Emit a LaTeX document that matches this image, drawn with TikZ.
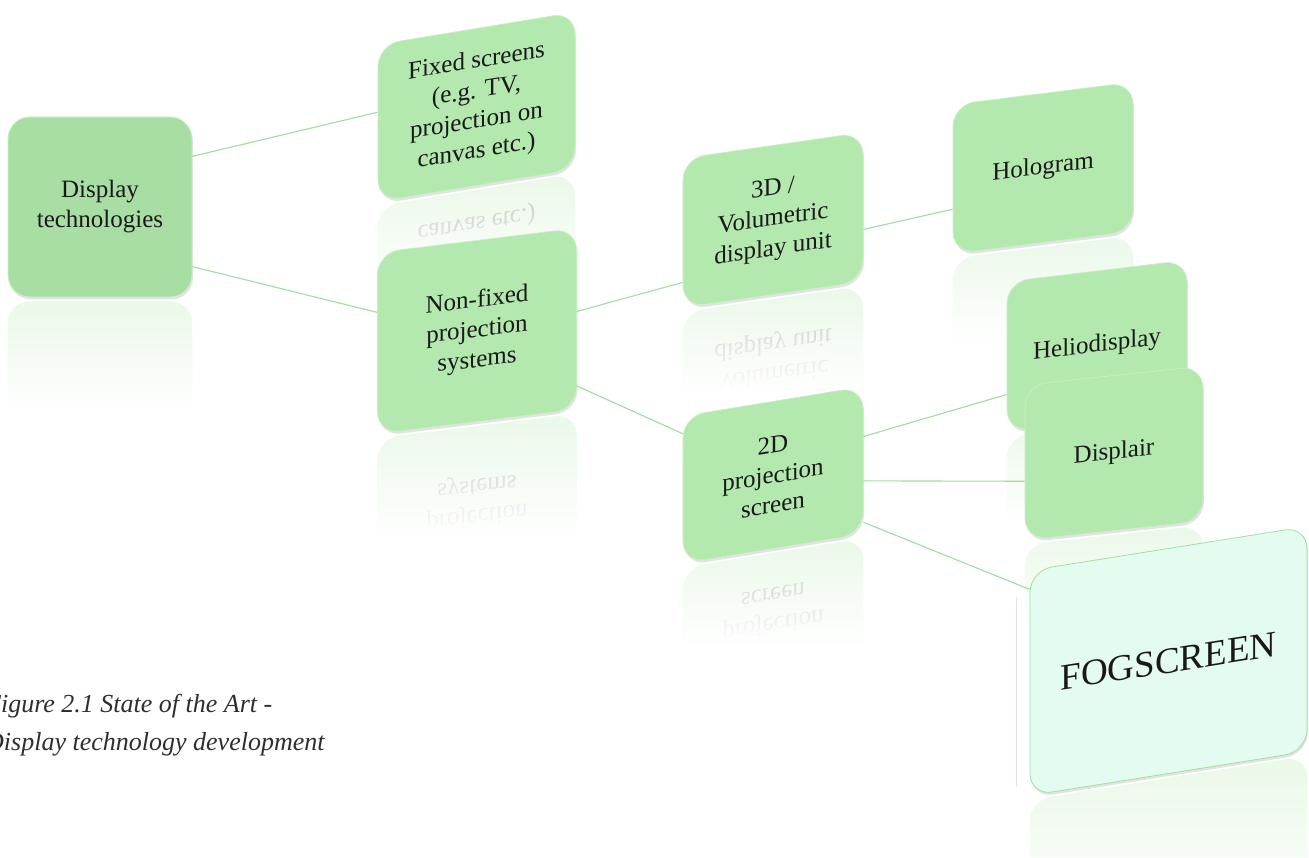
\documentclass[tikz,border=0pt]{standalone}
\usepackage{fontspec}
\setmainfont{Liberation Serif}
\usetikzlibrary{calc,fadings,shadows}
\pgfdeclarelayer{bg}
\pgfdeclarelayer{mid}
\pgfsetlayers{bg,mid,main}
\definecolor{boxg}{HTML}{B3E8AE}
\definecolor{boxd}{HTML}{A8DEA4}
\definecolor{fogf}{HTML}{E4FCF0}
\definecolor{fogb}{HTML}{A0E0A0}
\definecolor{conng}{HTML}{A0DCA0}
\definecolor{edgeg}{HTML}{C8EFC4}
\definecolor{faintline}{HTML}{DDE2EC}
\pgfdeclareverticalshading{reflshade}{100bp}{color(0bp)=(white); color(45bp)=(white); color(98bp)=(black); color(100bp)=(black)}
\pgfdeclarefading{reflfade}{\pgfuseshading{reflshade}}
\tikzset{
  card/.style={rectangle, rounded corners=22pt, fill=boxg, draw=edgeg, line width=0.8pt,
    align=center, inner sep=4pt, font=\fontsize{25}{30}\selectfont, text=black!90,
    drop shadow={opacity=0.22, shadow xshift=1pt, shadow yshift=-2.5pt}},
  rootcard/.style={card, fill=boxd},
  fogcard/.style={card, fill=fogf, draw=fogb, font=\fontsize{37}{42}\selectfont},
  conn/.style={draw=conng, line width=1.1pt},
  refltext/.style={align=center, inner sep=4pt, text=black!45, font=\fontsize{25}{30}\selectfont},
  captext/.style={anchor=base west, inner sep=0pt, text=black!82, font=\fontsize{26}{30}\selectfont\itshape},
}
% #1 style, #2 name, #3 x, #4 y from top, #5 width, #6 height, #7 slant, #8 text, #9 reflected text
\newcommand\mkcard[9]{%
  \node[#1, minimum width=#5pt, minimum height=#6pt, yslant=#7] (#2) at ({#3},{858-#4}) {#8};
  \begin{pgfonlayer}{bg}
    \fill[boxg!50!white, rounded corners=22pt] ($(#2.south west)+(0,-4)$) -- ($(#2.south east)+(0,-4)$)
      -- ($(#2.south east)+(0,-4-#6)$) -- ($(#2.south west)+(0,-4-#6)$) -- cycle;
    \node[refltext, yslant=#7, yscale=-1] at ($(#2.center)+(0,-4-#6)$) {#9};
    \fill[white, path fading=reflfade] ($(#2.south west)+(-3,-2)$) -- ($(#2.south east)+(3,-2)$)
      -- ($(#2.south east)+(3,-6-#6)$) -- ($(#2.south west)+(-3,-6-#6)$) -- cycle;
  \end{pgfonlayer}}
\begin{document}
\begin{tikzpicture}[x=1pt,y=1pt]
\useasboundingbox (0,0) rectangle (1309,858);
\clip (0,0) rectangle (1309,858);

\mkcard{rootcard}{dt}{100}{207}{184}{180}{0}{Display\\technologies}{}
\mkcard{card}{fixed}{476.5}{107}{197}{157}{0.165}{Fixed screens\\(e.g. TV,\\projection on\\canvas etc.)}{Fixed screens\\(e.g. TV,\\projection on\\canvas etc.)}
\mkcard{card}{nonfixed}{477}{331}{199}{181}{0.123}{Non-fixed\\projection\\systems}{Non-fixed\\projection\\systems}
\mkcard{card}{vol}{773}{220}{180}{149}{0.144}{3D /\\Volumetric\\display unit}{3D /\\Volumetric\\display unit}
\mkcard{card}{holo}{1043}{168}{180}{149}{0.125}{Hologram}{}
\mkcard{card}{twod}{773}{475}{180}{147}{0.164}{2D\\projection\\screen}{2D\\projection\\screen}
\mkcard{card}{helio}{1097}{346}{180}{150}{0.12}{Heliodisplay}{}
\mkcard{card}{displair}{1114}{453}{178}{155}{0.107}{Displair}{}
\mkcard{fogcard}{fog}{1168.5}{661}{277}{225}{0.159}{FOGSCREEN}{}

\begin{pgfonlayer}{mid}
\draw[conn] ($(dt.north east)!0.22!(dt.south east)$) -- ($(fixed.north west)!0.43!(fixed.south west)$);
\draw[conn] ($(dt.north east)!0.83!(dt.south east)$) -- ($(nonfixed.north west)!0.33!(nonfixed.south west)$);
\draw[conn] ($(nonfixed.north east)!0.46!(nonfixed.south east)$) -- ($(vol.north west)!0.83!(vol.south west)$);
\draw[conn] ($(nonfixed.north east)!0.87!(nonfixed.south east)$) -- ($(twod.north west)!0.12!(twod.south west)$);
\draw[conn] ($(vol.north east)!0.65!(vol.south east)$) -- ($(holo.north west)!0.70!(holo.south west)$);
\draw[conn] ($(twod.north east)!0.34!(twod.south east)$) -- ($(helio.north west)!0.75!(helio.south west)$);
\draw[conn] ($(twod.north east)!0.64!(twod.south east)$) -- ($(displair.north west)!0.62!(displair.south west)$);
\draw[conn] ($(twod.north east)!0.92!(twod.south east)$) -- ($(fog.north west)!0.085!(fog.south west)$);
\draw[draw=faintline, line width=0.8pt] (1016,261) -- (1016,71);
\end{pgfonlayer}

\node[captext] (cap1) at (-15,145) {Figure 2.1 State of the Art -};
\node[captext] (cap2) at (-15,107) {Display technology development};
\end{tikzpicture}
\end{document}
